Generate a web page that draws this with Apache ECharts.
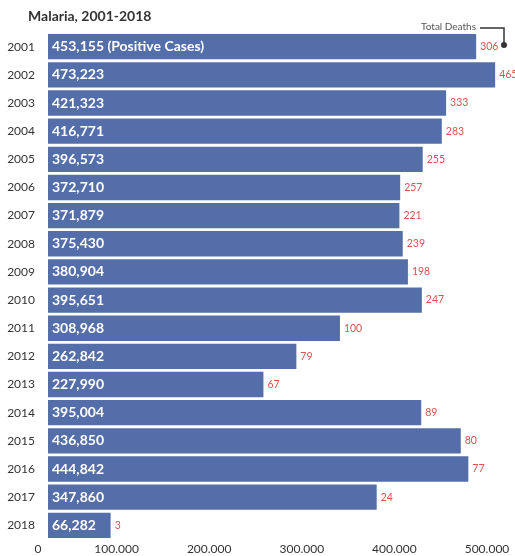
<!DOCTYPE html>
<html>
<head>
<meta charset="utf-8">
<script src="https://cdn.jsdelivr.net/npm/echarts@6/dist/echarts.min.js"></script>
<style>
  html, body { margin: 0; padding: 0; background: #fff; }
  #chart { width: 515px; height: 556px; }
</style>
</head>
<body>
<div id="chart"></div>
<script>
// Malaria positive cases and total deaths per year
const years = ['2001','2002','2003','2004','2005','2006','2007','2008','2009','2010','2011','2012','2013','2014','2015','2016','2017','2018'];
const positiveCases = [453155, 473223, 421323, 416771, 396573, 372710, 371879, 375430, 380904, 395651, 308968, 262842, 227990, 395004, 436850, 444842, 347860, 66282];
const totalDeaths = [306, 465, 333, 283, 255, 257, 221, 239, 198, 247, 100, 79, 67, 89, 80, 77, 24, 3];
const xTicks = [0, 100000, 200000, 300000, 400000, 500000];

const FONT = 'Lato, "Open Sans", sans-serif';

function withSep(v, sep) {
  return String(v).replace(/\B(?=(\d{3})+(?!\d))/g, sep);
}

const chart = echarts.init(document.getElementById('chart'), null, { renderer: 'canvas' });

chart.setOption({
  animation: false,
  backgroundColor: '#ffffff',
  title: {
    text: 'Malaria, 2001-2018',
    left: 28,
    top: 9,
    padding: 0,
    textStyle: { fontFamily: FONT, fontSize: 14, fontWeight: 'bold', color: '#333' }
  },
  grid: { left: 48, right: 4, top: 32.6, bottom: 16.6, containLabel: false },
  xAxis: [
    {
      // scale for the bars
      type: 'value',
      min: 0,
      max: 490000,
      axisLine: { show: false },
      axisTick: { show: false },
      splitLine: { show: false },
      axisLabel: { show: false }
    },
    {
      // tick labels along the bottom
      type: 'value',
      position: 'bottom',
      min: xTicks[0],
      max: xTicks[xTicks.length - 1],
      interval: xTicks[1] - xTicks[0],
      axisLine: { show: false },
      axisTick: { show: false },
      splitLine: { show: false },
      axisLabel: {
        show: true,
        showMinLabel: true,
        showMaxLabel: true,
        margin: 4,
        customValues: xTicks,
        formatter: function (v) {
          return v === 0 ? '{z|0}' : '{a|' + withSep(v, '.') + '}';
        },
        rich: {
          z: { fontFamily: FONT, fontSize: 12, color: '#333', padding: [0, 20, 0, 0] },
          a: { fontFamily: FONT, fontSize: 12, color: '#333', padding: [0, 48, 0, 0] }
        }
      }
    }
  ],
  yAxis: {
    type: 'category',
    data: years,
    inverse: true,
    axisLine: { show: false },
    axisTick: { show: false },
    splitLine: { show: false },
    axisLabel: { fontFamily: FONT, fontSize: 12, color: '#333', margin: 13 }
  },
  series: [
    {
      name: 'Positive Cases',
      type: 'bar',
      xAxisIndex: 0,
      data: positiveCases,
      barCategoryGap: '10%',
      itemStyle: { color: '#546ea9' },
      label: {
        show: true,
        position: 'insideLeft',
        distance: 4,
        fontFamily: FONT,
        fontSize: 14,
        fontWeight: 'bold',
        color: '#ffffff',
        formatter: function (p) {
          const s = withSep(p.value, ',');
          return p.dataIndex === 0 ? s + ' (Positive Cases)' : s;
        }
      },
      z: 2
    },
    {
      name: 'Total Deaths',
      type: 'bar',
      xAxisIndex: 0,
      data: positiveCases,
      barGap: '-100%',
      barCategoryGap: '10%',
      itemStyle: { color: 'rgba(0,0,0,0)' },
      label: {
        show: true,
        position: 'right',
        distance: 4,
        fontFamily: FONT,
        fontSize: 10.5,
        color: '#d9534f',
        formatter: function (p) { return String(totalDeaths[p.dataIndex]); }
      },
      silent: true,
      z: 3
    }
  ],
  graphic: [
    {
      type: 'text',
      style: {
        x: 476, y: 27, text: 'Total Deaths', fill: '#555',
        font: '10px ' + FONT, textAlign: 'right', textVerticalAlign: 'middle'
      }
    },
    {
      type: 'polyline',
      shape: { points: [[480, 28], [504, 28], [504, 44]] },
      style: { stroke: '#333', lineWidth: 1.5, fill: null }
    },
    {
      type: 'circle',
      shape: { cx: 504, cy: 45, r: 3 },
      style: { fill: '#333' }
    }
  ]
});
</script>
</body>
</html>
